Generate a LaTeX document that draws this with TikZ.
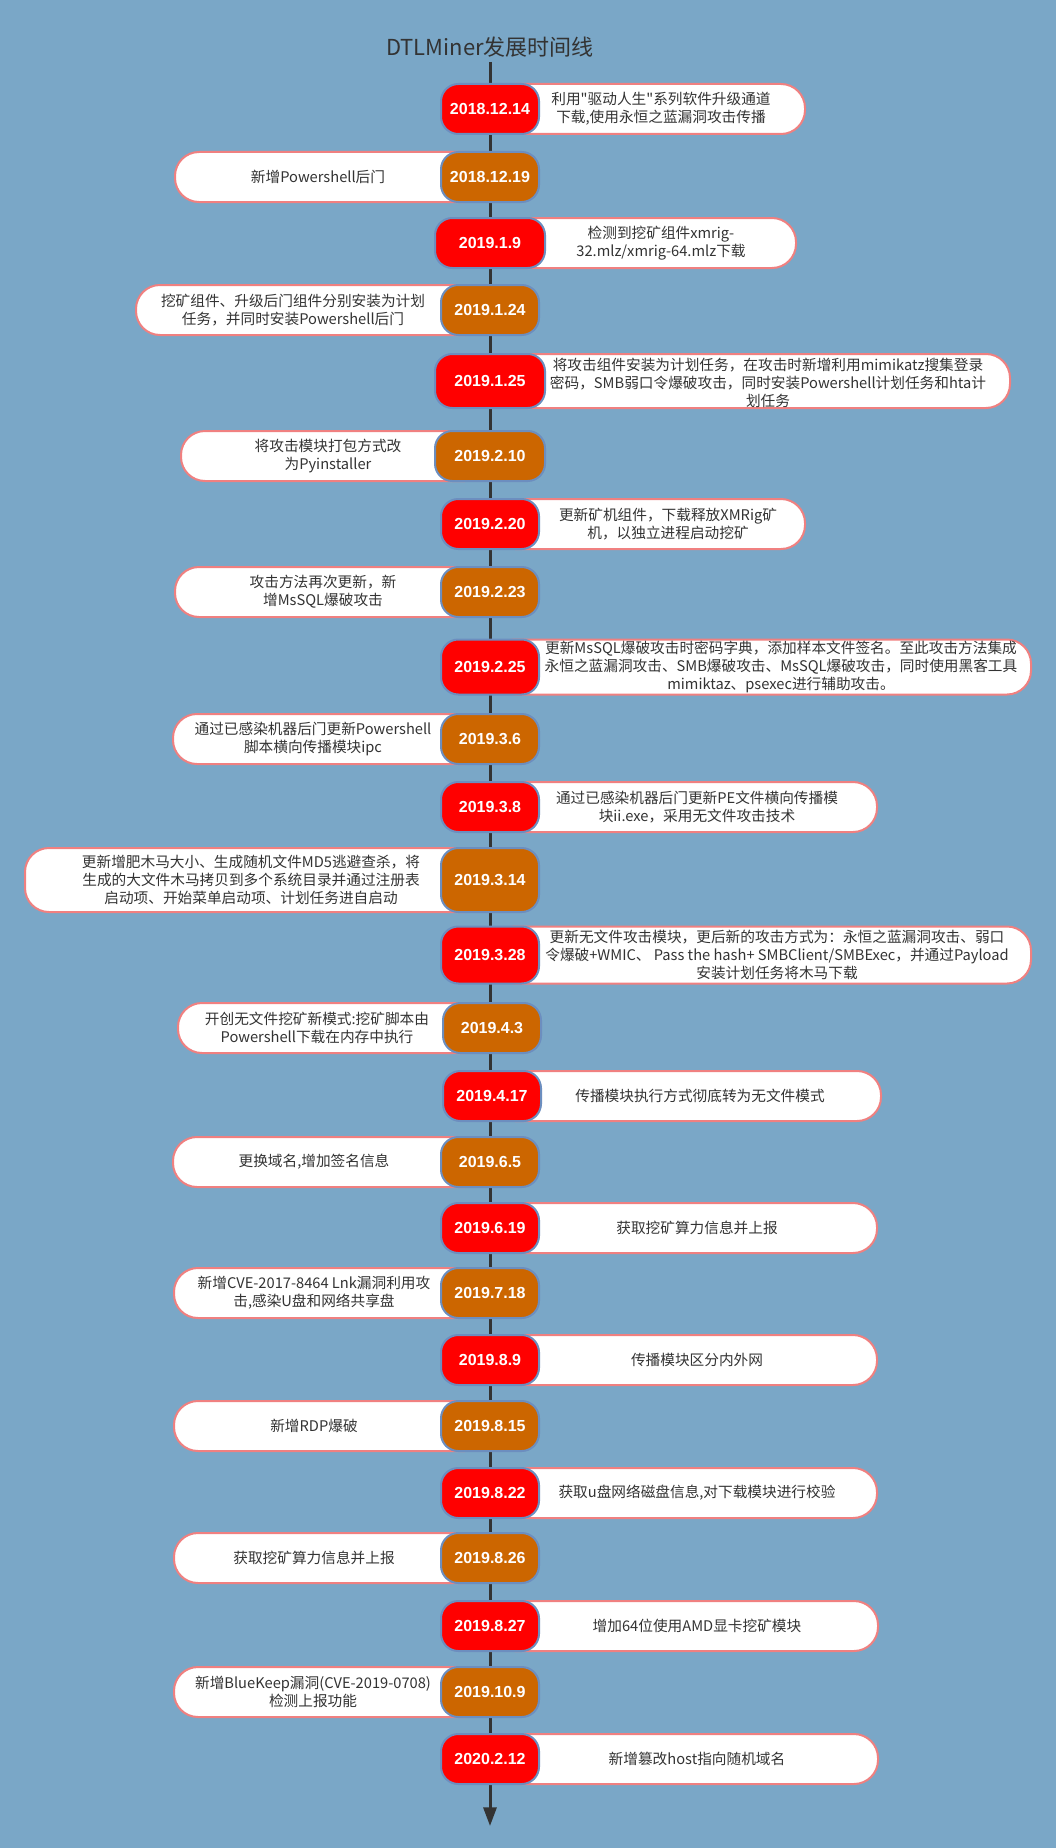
\documentclass[tikz,border=0pt]{standalone}
\usepackage{fontspec}
\newfontfamily\cjk{Noto Sans CJK SC}
\newfontfamily\datefont{Liberation Sans}
\usepackage{tikz}
\usetikzlibrary{arrows.meta}
\usepackage{xcolor}
\definecolor{bg}{RGB}{122,167,199}
\definecolor{ink}{RGB}{51,51,51}
\definecolor{pillline}{RGB}{108,142,191}
\definecolor{noteline}{RGB}{240,128,128}
\definecolor{late}{RGB}{204,102,0}

\begin{document}
\begin{tikzpicture}[x=0.75pt,y=-0.75pt,
  heading/.style={text=ink,font=\cjk\fontsize{16.5}{20}\selectfont},
  datepill/.style={draw=pillline,line width=1.5pt,fill=#1,rounded corners=13pt,
    minimum width=73.5pt,minimum height=37.5pt,inner sep=0pt,
    text=white,font=\datefont\bfseries\fontsize{12}{14}\selectfont},
  datepill/.default=red,
  notebox/.style={draw=noteline,line width=1.5pt,fill=white,rounded corners=18pt,
    minimum height=37.5pt,inner sep=0pt},
  notetext/.style={text=ink,align=center,font=\cjk\fontsize{11}{13.3}\selectfont},
  timeline/.style={draw=ink,line width=2.25pt,-{Triangle[width=9.75pt,length=14pt]}}
  ]
\def\px{0.75pt}
\path[fill=bg,use as bounding box] (0,0) rectangle (1056,1848);
\node[heading] (ttl) at (490,47) {DTLMiner发展时间线};
\coordinate (bottom) at (490,1826);
\draw[timeline] (ttl.south) -- (bottom);
% 1
\node[notebox,minimum width=(804-490)*\px,anchor=west] (b1) at (490,109) {};
\node[datepill] (d1) at (490,109) {2018.12.14};
\node[notetext] (t1) at (661,109) {利用"驱动人生"系列软件升级通道\\下载,使用永恒之蓝漏洞攻击传播};
% 2
\node[notebox,minimum width=(490-176)*\px,anchor=east] (b2) at (490,177) {};
\node[datepill=late] (d2) at (490,177) {2018.12.19};
\node[notetext] (t2) at (318,177) {新增Powershell后门};
% 3
\node[notebox,minimum width=(795-490)*\px,anchor=west] (b3) at (490,243) {};
\node[datepill,minimum width=110*\px] (d3) at (490,243) {2019.1.9};
\node[notetext] (t3) at (661,243) {检测到挖矿组件xmrig-\\32.mlz/xmrig-64.mlz下载};
% 4
\node[notebox,minimum width=(490-137)*\px,anchor=east] (b4) at (490,310) {};
\node[datepill=late] (d4) at (490,310) {2019.1.24};
\node[notetext] (t4) at (293,310) {挖矿组件、升级后门组件分别安装为计划\\任务，并同时安装Powershell后门};
% 5
\node[notebox,minimum width=(1009-490)*\px,minimum height=54*\px,anchor=west] (b5) at (490,381) {};
\node[datepill,minimum width=110*\px,minimum height=54*\px] (d5) at (490,381) {2019.1.25};
\node[notetext] (t5) at (768,383) {将攻击组件安装为计划任务，在攻击时新增利用mimikatz搜集登录\\密码，SMB弱口令爆破攻击，同时安装Powershell计划任务和hta计\\划任务};
% 6
\node[notebox,minimum width=(490-182)*\px,anchor=east] (b6) at (490,456) {};
\node[datepill=late,minimum width=110*\px] (d6) at (490,456) {2019.2.10};
\node[notetext] (t6) at (328,456) {将攻击模块打包方式改\\为Pyinstaller};
% 7
\node[notebox,minimum width=(804-490)*\px,anchor=west] (b7) at (490,524) {};
\node[datepill] (d7) at (490,524) {2019.2.20};
\node[notetext] (t7) at (668,524) {更新矿机组件，下载释放XMRig矿\\机，以独立进程启动挖矿};
% 8
\node[notebox,minimum width=(490-176)*\px,anchor=east] (b8) at (490,592) {};
\node[datepill=late] (d8) at (490,592) {2019.2.23};
\node[notetext] (t8) at (323,592) {攻击方法再次更新，新\\增MsSQL爆破攻击};
% 9
\node[notebox,minimum width=(1030-490)*\px,minimum height=55*\px,anchor=west] (b9) at (490,667) {};
\node[datepill,minimum height=55*\px] (d9) at (490,667) {2019.2.25};
\node[notetext] (t9) at (781,667) {更新MsSQL爆破攻击时密码字典，添加样本文件签名。至此攻击方法集成\\永恒之蓝漏洞攻击、SMB爆破攻击、MsSQL爆破攻击，同时使用黑客工具\\mimiktaz、psexec进行辅助攻击。};
% 10
\node[notebox,minimum width=(490-174)*\px,anchor=east] (b10) at (490,739) {};
\node[datepill=late] (d10) at (490,739) {2019.3.6};
\node[notetext] (t10) at (313,739) {通过已感染机器后门更新Powershell\\脚本横向传播模块ipc};
% 11
\node[notebox,minimum width=(876-490)*\px,anchor=west] (b11) at (490,807) {};
\node[datepill] (d11) at (490,807) {2019.3.8};
\node[notetext] (t11) at (697,807) {通过已感染机器后门更新PE文件横向传播模\\块ii.exe，采用无文件攻击技术};
% 12
\node[notebox,minimum width=(490-26)*\px,minimum height=64*\px,anchor=east] (b12) at (490,880) {};
\node[datepill=late,minimum height=64*\px] (d12) at (490,880) {2019.3.14};
\node[notetext] (t12) at (251,880) {更新增肥木马大小、生成随机文件MD5逃避查杀，将\\生成的大文件木马拷贝到多个系统目录并通过注册表\\启动项、开始菜单启动项、计划任务进自启动};
% 13
\node[notebox,minimum width=(1030-490)*\px,minimum height=57*\px,anchor=west] (b13) at (490,955) {};
\node[datepill,minimum height=57*\px] (d13) at (490,955) {2019.3.28};
\node[notetext] (t13) at (777,955) {更新无文件攻击模块，更后新的攻击方式为：永恒之蓝漏洞攻击、弱口\\令爆破+WMIC、 Pass the hash+ SMBClient/SMBExec，并通过Payload\\安装计划任务将木马下载};
% 14
\node[notebox,minimum width=(490-179)*\px,anchor=east] (b14) at (490,1028) {};
\node[datepill=late] (d14) at (492,1028) {2019.4.3};
\node[notetext] (t14) at (317,1028) {开创无文件挖矿新模式:挖矿脚本由\\Powershell下载在内存中执行};
% 15
\node[notebox,minimum width=(880-490)*\px,anchor=west] (b15) at (490,1096) {};
\node[datepill] (d15) at (492,1096) {2019.4.17};
\node[notetext] (t15) at (700,1096) {传播模块执行方式彻底转为无文件模式};
% 16
\node[notebox,minimum width=(490-174)*\px,anchor=east] (b16) at (490,1162) {};
\node[datepill=late] (d16) at (490,1162) {2019.6.5};
\node[notetext] (t16) at (314,1162) {更换域名,增加签名信息};
% 17
\node[notebox,minimum width=(876-490)*\px,anchor=west] (b17) at (490,1228) {};
\node[datepill] (d17) at (490,1228) {2019.6.19};
\node[notetext] (t17) at (697,1228) {获取挖矿算力信息并上报};
% 18
\node[notebox,minimum width=(490-175)*\px,anchor=east] (b18) at (490,1293) {};
\node[datepill=late] (d18) at (490,1293) {2019.7.18};
\node[notetext] (t18) at (314,1293) {新增CVE-2017-8464 Lnk漏洞利用攻\\击,感染U盘和网络共享盘};
% 19
\node[notebox,minimum width=(876-490)*\px,anchor=west] (b19) at (490,1360) {};
\node[datepill] (d19) at (490,1360) {2019.8.9};
\node[notetext] (t19) at (697,1360) {传播模块区分内外网};
% 20
\node[notebox,minimum width=(490-175)*\px,anchor=east] (b20) at (490,1426) {};
\node[datepill=late] (d20) at (490,1426) {2019.8.15};
\node[notetext] (t20) at (314,1426) {新增RDP爆破};
% 21
\node[notebox,minimum width=(876-490)*\px,anchor=west] (b21) at (490,1493) {};
\node[datepill] (d21) at (490,1493) {2019.8.22};
\node[notetext] (t21) at (697,1493) {获取u盘网络磁盘信息,对下载模块进行校验};
% 22
\node[notebox,minimum width=(490-175)*\px,anchor=east] (b22) at (490,1558) {};
\node[datepill=late] (d22) at (490,1558) {2019.8.26};
\node[notetext] (t22) at (314,1558) {获取挖矿算力信息并上报};
% 23
\node[notebox,minimum width=(877-490)*\px,anchor=west] (b23) at (490,1626) {};
\node[datepill] (d23) at (490,1626) {2019.8.27};
\node[notetext] (t23) at (697,1626) {增加64位使用AMD显卡挖矿模块};
% 24
\node[notebox,minimum width=(490-175)*\px,anchor=east] (b24) at (490,1692) {};
\node[datepill=late] (d24) at (490,1692) {2019.10.9};
\node[notetext] (t24) at (313,1692) {新增BlueKeep漏洞(CVE-2019-0708)\\检测上报功能};
% 25
\node[notebox,minimum width=(877-490)*\px,anchor=west] (b25) at (490,1759) {};
\node[datepill] (d25) at (490,1759) {2020.2.12};
\node[notetext] (t25) at (697,1759) {新增篡改host指向随机域名};
\end{tikzpicture}
\end{document}
